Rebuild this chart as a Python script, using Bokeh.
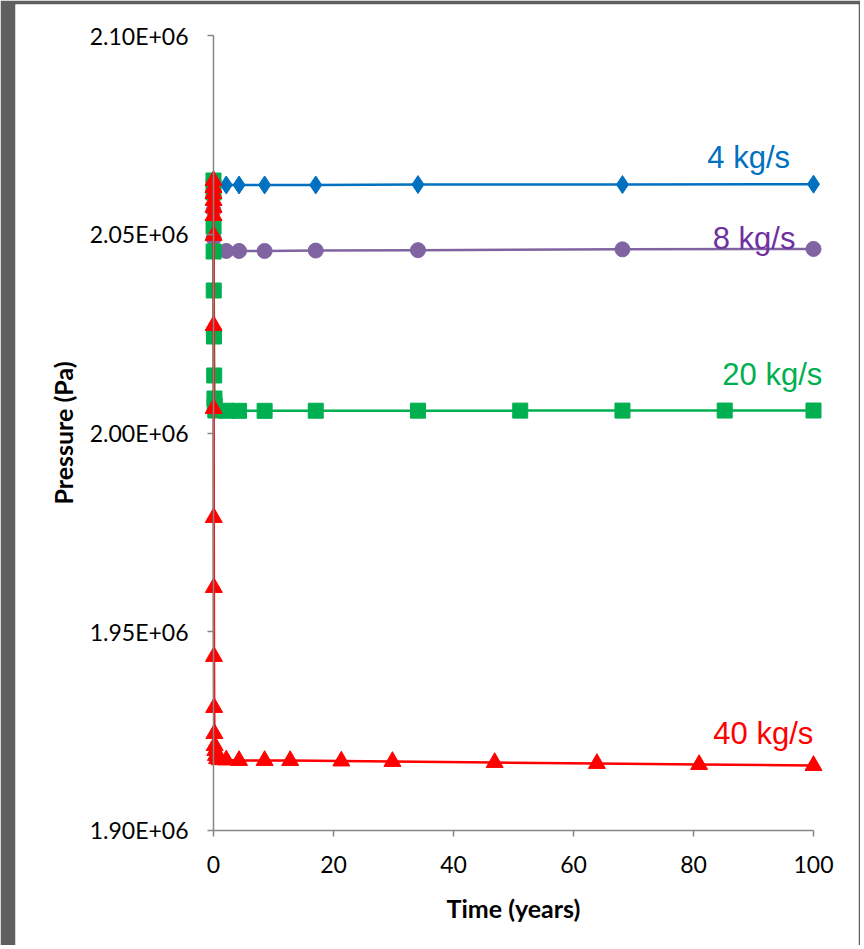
from bokeh.plotting import figure
from bokeh.models import FixedTicker, Label, Range1d
from bokeh.embed import file_html
from bokeh.resources import INLINE

# ---- data (time in years, pressure in Pa) ----
t_4 = [0, 0.01, 0.03, 0.1, 0.3, 2.13, 4.26, 8.52, 17.04, 34.08, 68.16, 100]
p_4 = [2.0633e6, 2.0628e6, 2.0626e6, 2.0625e6, 2.0625e6, 2.0624e6, 2.0624e6,
       2.0624e6, 2.0624e6, 2.0625e6, 2.0625e6, 2.0626e6]

t_8 = [0, 0.01, 0.03, 0.1, 0.3, 2.13, 4.26, 8.52, 17.04, 34.08, 68.16, 100]
p_8 = [2.0633e6, 2.0560e6, 2.0490e6, 2.0462e6, 2.0459e6, 2.0458e6, 2.0458e6,
       2.0458e6, 2.0459e6, 2.0460e6, 2.0462e6, 2.0463e6]

t_20 = [0, 0.005, 0.01, 0.02, 0.04, 0.08, 0.12, 0.16, 0.2, 0.3,
        2.13, 4.26, 8.52, 17.04, 34.08, 51.12, 68.16, 85.2, 100]
p_20 = [2.06352e6, 2.06050e6, 2.05195e6, 2.04566e6, 2.03585e6, 2.02428e6,
        2.01447e6, 2.00868e6, 2.00692e6, 2.00566e6,
        2.00560e6, 2.00558e6, 2.00558e6, 2.00560e6, 2.00562e6, 2.00563e6,
        2.00564e6, 2.00565e6, 2.00566e6]

t_40 = [0, 0.001, 0.002, 0.004, 0.006, 0.008, 0.012, 0.02, 0.03, 0.045,
        0.06, 0.08, 0.11, 0.15, 0.2, 0.3, 0.4, 0.6, 1.0,
        2.13, 4.26, 8.52, 12.78, 21.3, 29.82, 46.86, 63.9, 80.94, 100]
p_40 = [2.06352e6, 2.06176e6, 2.06025e6, 2.05849e6, 2.05673e6, 2.05472e6,
        2.04969e6, 2.02704e6, 2.00616e6, 1.97874e6, 1.96113e6, 1.94378e6,
        1.93094e6, 1.92440e6, 1.92138e6, 1.92012e6, 1.91887e6, 1.91811e6,
        1.91780e6,
        1.91774e6, 1.91761e6, 1.91761e6, 1.91760e6, 1.91748e6, 1.91736e6,
        1.91710e6, 1.91685e6, 1.91660e6, 1.91635e6]

series_names = ["4 kg/s", "8 kg/s", "20 kg/s", "40 kg/s"]

x_ticks = [0, 20, 40, 60, 80, 100]
y_ticks = [1.90e6, 1.95e6, 2.00e6, 2.05e6, 2.10e6]
y_tick_labels = ["1.90E+06", "1.95E+06", "2.00E+06", "2.05E+06", "2.10E+06"]
x_axis_min, x_axis_max = 0, 100
y_axis_min, y_axis_max = 1.90e6, 2.10e6

# ---- figure (frame spans the whole white page area; axes drawn at fixed locations) ----
p = figure(width=860, height=945,
           min_border_left=15, min_border_right=2,
           min_border_top=4, min_border_bottom=0,
           x_range=Range1d(-33.0, 107.5), y_range=Range1d(1.871069e6, 2.107799e6),
           output_backend="svg", toolbar_location=None)
p.background_fill_color = "white"
p.border_fill_color = "#5f5f5f"
p.outline_line_color = None
p.xgrid.grid_line_color = None
p.ygrid.grid_line_color = None

p.yaxis.fixed_location = x_axis_min
p.xaxis.fixed_location = y_axis_min
p.xaxis.bounds = (x_axis_min, x_axis_max)
p.yaxis.bounds = (y_axis_min, y_axis_max)

AX = "#868686"
for ax in (p.xaxis[0], p.yaxis[0]):
    ax.axis_line_color = AX
    ax.axis_line_width = 1.5
    ax.major_tick_line_color = AX
    ax.major_tick_line_width = 1.5
    ax.major_tick_in = 0
    ax.major_tick_out = 6
    ax.minor_tick_line_color = None
    ax.major_label_text_font = "Lato"
    ax.major_label_text_font_size = "23px"
    ax.major_label_text_color = "#000000"
    ax.axis_label_text_font = "Lato"
    ax.axis_label_text_font_style = "bold"
    ax.axis_label_text_font_size = "25px"
    ax.axis_label_text_color = "#000000"

p.xaxis.ticker = FixedTicker(ticks=x_ticks)
p.yaxis.ticker = FixedTicker(ticks=y_ticks)
p.yaxis.major_label_overrides = {v: s for v, s in zip(y_ticks, y_tick_labels)}
p.xaxis.axis_label = "Time (years)"
p.yaxis.axis_label = "Pressure (Pa)"
p.yaxis.major_label_standoff = 19
p.xaxis.major_label_standoff = 20
p.yaxis.axis_label_standoff = 9
p.xaxis.axis_label_standoff = 16

BLUE = "#0070C0"
PURPLE = "#8064A2"
GREEN = "#00B050"
RED = "#FF0000"

p.line(t_4, p_4, line_color=BLUE, line_width=2.5)
p.scatter(t_4, p_4, marker="diamond", size=18, fill_color=BLUE, line_color=BLUE)

p.line(t_8, p_8, line_color=PURPLE, line_width=2.5)
p.scatter(t_8, p_8, marker="circle", size=15, fill_color=PURPLE, line_color=PURPLE)

p.line(t_20, p_20, line_color=GREEN, line_width=2.5)
p.scatter(t_20, p_20, marker="square", size=15, fill_color=GREEN, line_color=GREEN)

p.line(t_40, p_40, line_color=RED, line_width=2.5)
p.scatter(t_40, p_40, marker="triangle", size=17, fill_color=RED, line_color=RED)

label_colors = [BLUE, "#7030A0", GREEN, RED]
label_x = [82.3, 83.2, 84.8, 83.3]
label_y = [2.0693e6, 2.04894e6, 2.01472e6, 1.92441e6]
for name, c, lx, ly in zip(series_names, label_colors, label_x, label_y):
    p.add_layout(Label(x=lx, y=ly, text=name, text_color=c,
                       text_font="Liberation Sans", text_font_size="31px",
                       text_baseline="alphabetic", text_align="left"))

open("out.html", "w").write(file_html(p, INLINE))
